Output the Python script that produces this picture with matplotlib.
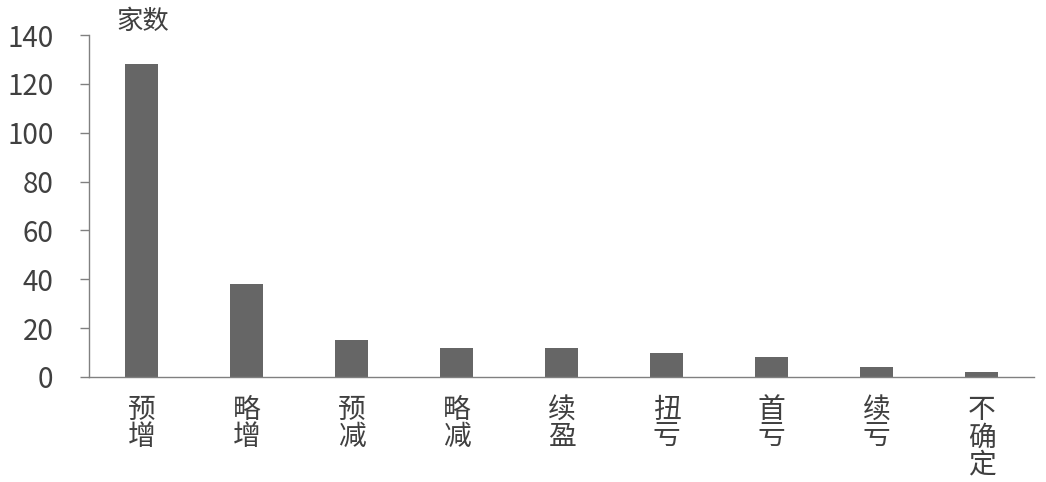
import matplotlib
matplotlib.use("Agg")
import matplotlib.pyplot as plt
import numpy as np

plt.rcParams['font.family'] = ['Noto Sans CJK SC', 'DejaVu Sans']

categories = ["预增", "略增", "预减", "略减", "续盈", "扭亏", "首亏", "续亏", "不确定"]
values = [128, 38, 15, 12, 12, 10, 8, 4, 2]
yticks = [0, 20, 40, 60, 80, 100, 120, 140]
ylabel_text = "家数"

W, H = 1046, 482
fig = plt.figure(figsize=(W / 100, H / 100), dpi=100)
ax = fig.add_axes([89 / W, 1 - 377 / H, (1034 - 89) / W, (377 - 35) / H])

x = np.arange(len(categories))
ax.bar(x, values, width=0.31, color="#666666", zorder=2)

ax.set_xlim(-0.5, len(categories) - 0.5)
ax.set_ylim(0, 140)
ax.set_yticks(yticks)
ax.set_yticklabels([str(v) for v in yticks], fontsize=20, color="#404040")
ax.set_xticks(x)
ax.set_xticklabels(["\n".join(c) for c in categories], fontsize=20, color="#404040",
                   linespacing=0.88, va="top")
ax.tick_params(axis="x", length=0, pad=13)
ax.tick_params(axis="y", length=6.5, width=1, color="#808080", pad=19)

for s in ["top", "right"]:
    ax.spines[s].set_visible(False)
for s in ["left", "bottom"]:
    ax.spines[s].set_color("#808080")
    ax.spines[s].set_linewidth(1)

fig.text(116 / W, 1 - 21 / H, ylabel_text, fontsize=19, color="#404040", va="center", ha="left")

fig.savefig("out.png", dpi=100)
